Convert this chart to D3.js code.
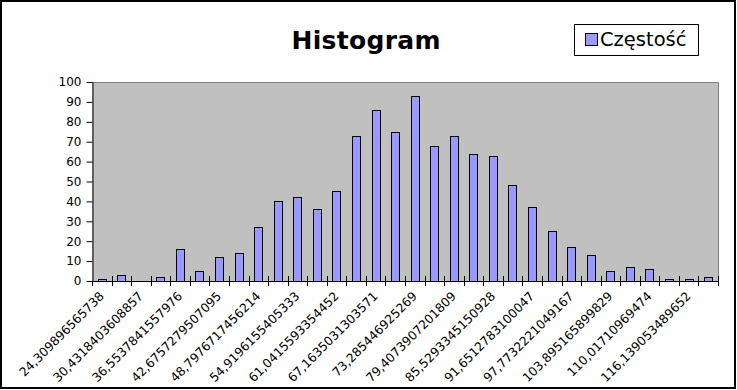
<!DOCTYPE html>
<html><head><meta charset="utf-8">
<script src="https://cdn.jsdelivr.net/npm/d3@7"></script>
<style>html,body{margin:0;padding:0;background:#fff;}svg{display:block;}</style>
</head><body>
<script>
const title = "Histogram";
const seriesName = "Częstość";
const categories = [
  "24,309896565738","27,370868463294","30,4318403608857","33,4928122584417",
  "36,5537841557976","39,6147560533536","42,6757279507095","45,7366998482655",
  "48,7976717456214","51,8586436431774","54,9196155405333","57,9805874380893",
  "61,0415593354452","64,1025312330012","67,1635031303571","70,224475027913",
  "73,285446925269","76,346418822825","79,4073907201809","82,4683626177369",
  "85,5293345150928","88,5903064126488","91,6512783100047","94,7122502075607",
  "97,7732221049167","100,834194002473","103,895165899829","106,956137797385",
  "110,01710969474","113,078081592296","116,139053489652","119,200025387208"
];
const values = [1,3,0,2,16,5,12,14,27,40,42,36,45,73,86,75,93,68,73,64,63,48,37,25,17,13,5,7,6,1,1,2];
const yTicks = [0,10,20,30,40,50,60,70,80,90,100];

const W = 737, H = 390;
const L = 92, R = 718, T = 82, B = 281;
const svg = d3.select("body").append("svg").attr("width", W).attr("height", H);
const font = "DejaVu Sans, sans-serif";

// outer frame
svg.append("rect").attr("x",1).attr("y",1).attr("width",734).attr("height",387)
  .attr("fill","#fff").attr("stroke","#000").attr("stroke-width",2);

const x = d3.scaleBand().domain(categories).range([L,R]).paddingInner(0.58).paddingOuter(0.29);
const xb = d3.scaleBand().domain(categories).range([L,R]).padding(0);
const y = d3.scaleLinear().domain([0,100]).range([B,T]);

// plot area
svg.append("rect").attr("x",L).attr("y",T).attr("width",R-L).attr("height",B-T).attr("fill","#c0c0c0");
svg.append("path").attr("d",`M${L},${T+0.5}H${R+0.5}V${B}`).attr("fill","none").attr("stroke","#808080").attr("stroke-width",1);

// bars
svg.append("g").selectAll("rect").data(values).join("rect")
  .attr("x",(d,i)=>Math.round(x(categories[i]))+0.5)
  .attr("y",d=>Math.round(y(d))+0.5)
  .attr("width",Math.round(x.bandwidth()))
  .attr("height",d=>Math.max(0,Math.round(y(0))-Math.round(y(d))))
  .attr("fill","#9999ff").attr("stroke","#000").attr("stroke-width",1);

// y axis
const ya = svg.append("g").attr("transform",`translate(${L+0.5},0)`)
  .call(d3.axisLeft(y).tickValues(yTicks).tickSize(6).tickPadding(5).tickSizeOuter(0));
ya.select(".domain").attr("stroke","#000");
ya.selectAll("text").attr("font-family",font).attr("font-size",12).attr("fill","#000");

// x axis line and ticks at category boundaries
const bounds = categories.map(c=>xb(c)).concat([R]);
svg.append("line").attr("x1",L).attr("x2",R+0.5).attr("y1",B+0.5).attr("y2",B+0.5).attr("stroke","#000");
svg.append("g").selectAll("line").data(bounds).join("line")
  .attr("x1",d=>Math.round(d)+0.5).attr("x2",d=>Math.round(d)+0.5)
  .attr("y1",(d,i)=>i===0?B:B-5).attr("y2",B+5).attr("stroke","#000");

// x labels (every other)
svg.append("g").selectAll("text").data(categories.filter((c,i)=>i%2===0)).join("text")
  .attr("transform",c=>`translate(${x(c)+x.bandwidth()/2+3},${B+16}) rotate(-45)`)
  .attr("text-anchor","end").attr("font-family",font).attr("font-size",12.3).attr("fill","#000")
  .text(c=>c);

// title
svg.append("text").attr("x",366).attr("y",49).attr("text-anchor","middle")
  .attr("font-family",font).attr("font-weight","bold").attr("font-size",25)
  .attr("textLength",149).attr("lengthAdjust","spacing").text(title);

// legend
const lg = svg.append("g");
lg.append("rect").attr("x",574.5).attr("y",24.5).attr("width",124).attr("height",31)
  .attr("fill","#fff").attr("stroke","#000");
lg.append("rect").attr("x",585.5).attr("y",33.5).attr("width",12).attr("height",12)
  .attr("fill","#9999ff").attr("stroke","#000");
lg.append("text").attr("x",600).attr("y",46).attr("font-family",font).attr("font-size",19.5)
  .attr("fill","#000").text(seriesName);
</script>
</body></html>
